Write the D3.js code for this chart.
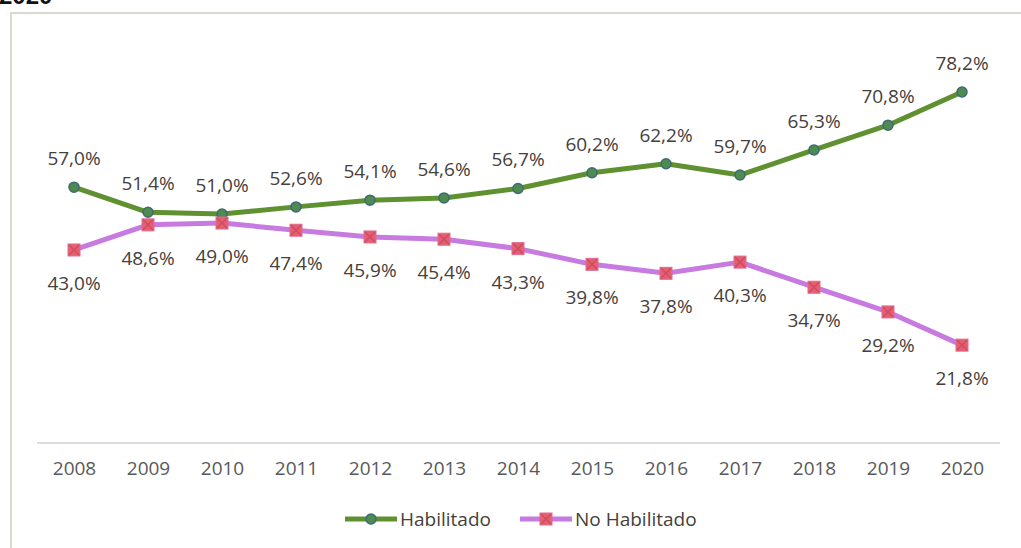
<!DOCTYPE html>
<html>
<head>
<meta charset="utf-8">
<script src="https://cdn.jsdelivr.net/npm/d3@7"></script>
<style>
  html, body { margin: 0; padding: 0; background: #ffffff; }
  svg { display: block; }
</style>
</head>
<body>
<svg id="chart" width="1021" height="548"></svg>
<script>
// Years on the x axis
const years = ["2008","2009","2010","2011","2012","2013","2014","2015","2016","2017","2018","2019","2020"];
// Share (%) per year
const habilitado   = [57.0, 51.4, 51.0, 52.6, 54.1, 54.6, 56.7, 60.2, 62.2, 59.7, 65.3, 70.8, 78.2];
const noHabilitado = [43.0, 48.6, 49.0, 47.4, 45.9, 45.4, 43.3, 39.8, 37.8, 40.3, 34.7, 29.2, 21.8];
const seriesNames  = ["Habilitado", "No Habilitado"];

const svg = d3.select("#chart");
const W = 1021, H = 548;
const font = "'Open Sans', 'Noto Sans', sans-serif";
const fs = 19, fw = 500;

// Heading above the frame (only its lower edge fits in the view)
svg.append("text")
  .attr("x", -1).attr("y", 4)
  .attr("font-family", "'Liberation Sans', Arial, sans-serif")
  .attr("font-weight", "bold")
  .attr("font-size", 24)
  .attr("fill", "#111")
  .text("2020");

// Chart frame
svg.append("rect")
  .attr("x", 11).attr("y", 13)
  .attr("width", W - 11 + 5).attr("height", H)
  .attr("fill", "#ffffff")
  .attr("stroke", "#d9d9d0")
  .attr("stroke-width", 2);

const x = d3.scalePoint().domain(years).range([74, 962]);
const y = d3.scaleLinear().domain([0, 90]).range([443, 39]);

// Category axis (baseline + year labels)
const xAxis = d3.axisBottom(x).tickSize(0).tickPadding(19);
const gx = svg.append("g").attr("transform", "translate(0,443)").call(xAxis);
gx.select(".domain").remove();
gx.selectAll("text")
  .attr("font-family", font)
  .attr("font-size", fs)
  .attr("font-weight", fw)
  .attr("fill", "#595959");
svg.append("line")
  .attr("x1", 37).attr("x2", 1000)
  .attr("y1", 443).attr("y2", 443)
  .attr("stroke", "#d0d0d0").attr("stroke-width", 1.5);

const green = "#5f9131", violet = "#c77be0";

const line = d3.line().x((d, i) => x(years[i])).y(d => y(d));

// Habilitado
svg.append("path").datum(habilitado)
  .attr("d", line).attr("fill", "none")
  .attr("stroke", green).attr("stroke-width", 5)
  .attr("stroke-linejoin", "round");

// No Habilitado
svg.append("path").datum(noHabilitado)
  .attr("d", line).attr("fill", "none")
  .attr("stroke", violet).attr("stroke-width", 5)
  .attr("stroke-linejoin", "round");

function circleMarker(g, cx, cy) {
  g.append("circle").attr("cx", cx).attr("cy", cy).attr("r", 5)
    .attr("fill", "#4f8a50").attr("stroke", "#3d6b74").attr("stroke-width", 1.5);
}
function crossMarker(g, cx, cy) {
  g.append("rect").attr("x", cx - 6).attr("y", cy - 6).attr("width", 12).attr("height", 12)
    .attr("fill", "#e4606a").attr("stroke", "#e06a90").attr("stroke-width", 1);
  g.append("path")
    .attr("d", `M${cx-5},${cy-5}L${cx+5},${cy+5}M${cx+5},${cy-5}L${cx-5},${cy+5}`)
    .attr("stroke", "#d04a6a").attr("stroke-width", 1.5);
}

const marks = svg.append("g");
habilitado.forEach((v, i) => circleMarker(marks, x(years[i]), y(v)));
noHabilitado.forEach((v, i) => crossMarker(marks, x(years[i]), y(v)));

const fmt = v => v.toFixed(1).replace(".", ",") + "%";

// Value labels
svg.append("g").selectAll("text").data(habilitado).join("text")
  .attr("x", (d, i) => x(years[i]))
  .attr("y", d => y(d) - 22)
  .attr("text-anchor", "middle")
  .attr("font-family", font).attr("font-size", fs).attr("font-weight", fw)
  .attr("fill", "#46403a")
  .text(fmt);

svg.append("g").selectAll("text").data(noHabilitado).join("text")
  .attr("x", (d, i) => x(years[i]))
  .attr("y", d => y(d) + 40)
  .attr("text-anchor", "middle")
  .attr("font-family", font).attr("font-size", fs).attr("font-weight", fw)
  .attr("fill", "#46403a")
  .text(fmt);

// Legend
const lg = svg.append("g");
const legendItems = [
  { name: seriesNames[0], x0: 345, color: green, marker: circleMarker },
  { name: seriesNames[1], x0: 520, color: violet, marker: crossMarker }
];
legendItems.forEach(it => {
  lg.append("line").attr("x1", it.x0).attr("x2", it.x0 + 52)
    .attr("y1", 519).attr("y2", 519)
    .attr("stroke", it.color).attr("stroke-width", 5);
  it.marker(lg, it.x0 + 26, 519);
  lg.append("text").attr("x", it.x0 + 55).attr("y", 526)
    .attr("font-family", font).attr("font-size", fs).attr("font-weight", fw)
    .attr("fill", "#46403a")
    .text(it.name);
});
</script>
</body>
</html>
